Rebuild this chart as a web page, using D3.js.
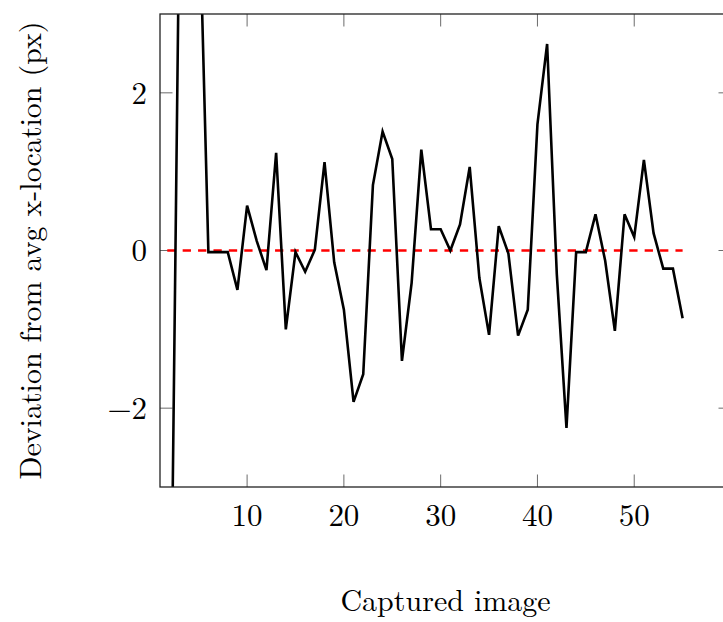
<!DOCTYPE html>
<html>
<head>
<meta charset="utf-8">
<script src="https://cdn.jsdelivr.net/npm/d3@7"></script>
<style>
  html, body { margin: 0; padding: 0; background: #fff; }
  #chart { width: 723px; height: 622px; }
  text { font-family: "Latin Modern Roman", "CMU Serif", "Liberation Serif", serif; fill: #000; }
</style>
</head>
<body>
<div id="chart"></div>
<script>
// Captured image index and deviation (px)
const frames = [2, 3, 4, 5, 6, 7, 8, 9, 10, 11, 12, 13, 14, 15, 16, 17, 18, 19, 20,
    21, 22, 23, 24, 25, 26, 27, 28, 29, 30, 31, 32, 33, 34, 35, 36, 37, 38, 39, 40,
    41, 42, 43, 44, 45, 46, 47, 48, 49, 50, 51, 52, 53, 54, 55];
const deviation = [-6.4, 4.3, 5.5, 4.7, -0.02, -0.02, -0.02, -0.5, 0.57, 0.12, -0.25, 1.24,
    -1.0, -0.02, -0.27, 0.01, 1.12, -0.15, -0.75, -1.92, -1.57, 0.83, 1.51, 1.16, -1.4,
    -0.41, 1.28, 0.27, 0.27, 0.0, 0.33, 1.06, -0.35, -1.07, 0.31, -0.04, -1.08, -0.75,
    1.6, 2.62, -0.3, -2.25, -0.02, -0.02, 0.46, -0.13, -1.02, 0.46, 0.17, 1.15, 0.22,
    -0.23, -0.23, -0.86];
// mean line (y = 0) and its x extent
const meanValue = 0;
const meanExtent = [1.75, 55];

const xDomain = [1, 60];
const yDomain = [-3, 3];
const xTicks = [10, 20, 30, 40, 50];
const yTicks = [-2, 0, 2];

const xLabel = "Captured image";
const yLabel = "Deviation from avg x-location (px)";

function drawChart(selector) {
    const width = 723, height = 622;
    const margin = { top: 14, right: -8, bottom: 135, left: 160 }; // right axis sits past the window edge

    const svg = d3.select(selector).append("svg")
        .attr("width", width)
        .attr("height", height);

    const x = d3.scaleLinear().domain(xDomain).range([margin.left, width - margin.right]);
    const y = d3.scaleLinear().domain(yDomain).range([height - margin.bottom, margin.top]);

    const x0 = x.range()[0], x1 = x.range()[1];
    const y0 = y.range()[0], y1 = y.range()[1];
    const tickLen = 12.5;

    svg.append("defs").append("clipPath").attr("id", "plot-clip")
        .append("rect")
        .attr("x", x0).attr("y", y1)
        .attr("width", x1 - x0).attr("height", y0 - y1);

    // ticks, pointing inward on all four sides
    const ticks = svg.append("g").attr("stroke", "#6b6b6b").attr("stroke-width", 1);
    xTicks.forEach(t => {
        ticks.append("line").attr("x1", x(t)).attr("x2", x(t)).attr("y1", y0).attr("y2", y0 - tickLen);
        ticks.append("line").attr("x1", x(t)).attr("x2", x(t)).attr("y1", y1).attr("y2", y1 + tickLen);
    });
    yTicks.forEach(t => {
        ticks.append("line").attr("x1", x0).attr("x2", x0 + tickLen).attr("y1", y(t)).attr("y2", y(t));
        ticks.append("line").attr("x1", x1).attr("x2", x1 - tickLen).attr("y1", y(t)).attr("y2", y(t));
    });

    const plot = svg.append("g").attr("clip-path", "url(#plot-clip)");

    // mean line
    plot.append("line")
        .attr("x1", x(meanExtent[0]))
        .attr("x2", x(meanExtent[1]))
        .attr("y1", y(meanValue))
        .attr("y2", y(meanValue))
        .attr("stroke", "#ff0000")
        .attr("stroke-width", 2.5)
        .attr("stroke-dasharray", "8.3,7.1");

    const points = frames.map((f, i) => [f, deviation[i]]);
    plot.append("path")
        .datum(points)
        .attr("fill", "none")
        .attr("stroke", "#000")
        .attr("stroke-width", 2.6)
        .attr("stroke-linejoin", "miter")
        .attr("d", d3.line().x(d => x(d[0])).y(d => y(d[1])));

    // frame
    svg.append("rect")
        .attr("x", x0).attr("y", y1)
        .attr("width", x1 - x0).attr("height", y0 - y1)
        .attr("fill", "none")
        .attr("stroke", "#222")
        .attr("stroke-width", 1.3);

    // tick labels
    const fmt = d3.format("d");
    svg.append("g").selectAll("text")
        .data(xTicks)
        .join("text")
        .attr("x", d => x(d))
        .attr("y", y0 + 39)
        .attr("text-anchor", "middle")
        .style("font-size", "31px")
        .text(fmt);

    svg.append("g").selectAll("text")
        .data(yTicks)
        .join("text")
        .attr("x", x0 - 13)
        .attr("y", d => y(d))
        .attr("dy", "0.35em")
        .attr("text-anchor", "end")
        .style("font-size", "31px")
        .text(fmt);

    // axis labels
    svg.append("text")
        .attr("x", (x0 + x1) / 2)
        .attr("y", 611)
        .attr("text-anchor", "middle")
        .style("font-size", "30px")
        .text(xLabel);

    svg.append("text")
        .attr("transform", `translate(41,${(y0 + y1) / 2}) rotate(-90)`)
        .attr("text-anchor", "middle")
        .style("font-size", "30px")
        .text(yLabel);
}

drawChart("#chart");
</script>
</body>
</html>
